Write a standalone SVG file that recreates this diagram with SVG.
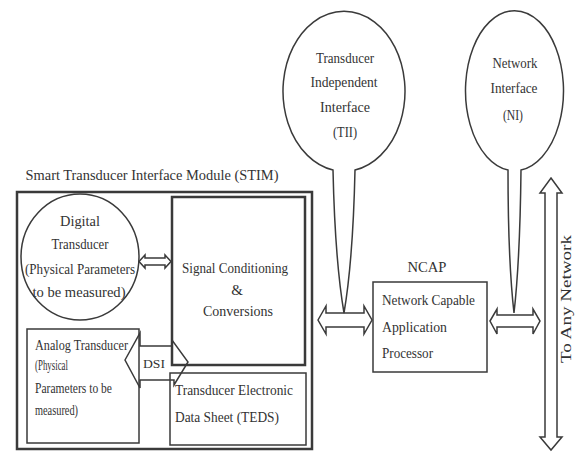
<svg xmlns="http://www.w3.org/2000/svg" width="578" height="454" viewBox="0 0 578 454">
<style>
.ln{fill:none;stroke:#3a3a3a;stroke-width:1.5;stroke-linejoin:miter}
.thk{fill:none;stroke:#3a3a3a;stroke-width:2.5}
.t{font-family:"Liberation Serif","Times New Roman",serif;font-size:15px;fill:#333}
.s{font-family:"Liberation Serif","Times New Roman",serif;font-size:13px;fill:#333}
.m{text-anchor:middle}
</style>
<rect width="578" height="454" fill="#fff"/>
<g id="stim">
<text class="t m" x="152" y="180" textLength="253" lengthAdjust="spacingAndGlyphs">Smart Transducer Interface Module (STIM)</text>
<rect class="thk" x="17" y="192" width="295" height="257"/>
</g>
<g id="digital">
<ellipse class="ln" cx="80" cy="257" rx="59" ry="63"/>
<text class="t m" x="80" y="226" textLength="40" lengthAdjust="spacingAndGlyphs">Digital</text>
<text class="t m" x="80" y="249" textLength="57" lengthAdjust="spacingAndGlyphs">Transducer</text>
<text class="t m" x="80" y="274" textLength="110" lengthAdjust="spacingAndGlyphs">(Physical Parameters</text>
<text class="t m" x="79" y="297" textLength="93" lengthAdjust="spacingAndGlyphs">to be measured)</text>
</g>
<g id="signal">
<rect class="thk" x="172" y="197" width="133" height="168"/>
<text class="t m" x="235" y="273" textLength="106" lengthAdjust="spacingAndGlyphs">Signal Conditioning</text>
<text class="t m" x="237" y="295">&amp;</text>
<text class="t m" x="238" y="316" textLength="70" lengthAdjust="spacingAndGlyphs">Conversions</text>
</g>
<g id="teds">
<rect class="ln" x="170" y="373" width="136" height="72"/>
<text class="t" x="175" y="395" textLength="118" lengthAdjust="spacingAndGlyphs">Transducer Electronic</text>
<text class="t" x="175" y="422" textLength="104" lengthAdjust="spacingAndGlyphs">Data Sheet (TEDS)</text>
</g>
<g id="analog">
<rect class="ln" x="27" y="329" width="112" height="114"/>
<text class="t" x="35" y="350" textLength="93" lengthAdjust="spacingAndGlyphs">Analog Transducer</text>
<text class="t" x="35" y="370" textLength="33" lengthAdjust="spacingAndGlyphs">(Physical</text>
<text class="t" x="35" y="393" textLength="77" lengthAdjust="spacingAndGlyphs">Parameters to be</text>
<text class="t" x="35" y="415" textLength="43" lengthAdjust="spacingAndGlyphs">measured)</text>
</g>
<g id="tii">
<path class="ln" d="M333,170 A61,80 0 1 1 355,170 Q353,260 344,313 Q335,260 333,170 Z"/>
<text class="t m" x="345" y="63" textLength="58" lengthAdjust="spacingAndGlyphs">Transducer</text>
<text class="t m" x="344" y="87" textLength="67" lengthAdjust="spacingAndGlyphs">Independent</text>
<text class="t m" x="345" y="112" textLength="50" lengthAdjust="spacingAndGlyphs">Interface</text>
<text class="t m" x="345" y="137" textLength="24" lengthAdjust="spacingAndGlyphs">(TII)</text>
</g>
<g id="ni">
<path class="ln" d="M508,170 A49,80 0 1 1 521,170 Q520,260 514,313 Q508,260 508,170 Z"/>
<text class="t m" x="515" y="68" textLength="45" lengthAdjust="spacingAndGlyphs">Network</text>
<text class="t m" x="514" y="93" textLength="47" lengthAdjust="spacingAndGlyphs">Interface</text>
<text class="t m" x="513" y="120" textLength="20" lengthAdjust="spacingAndGlyphs">(NI)</text>
</g>
<g id="ncap">
<text class="t m" x="427" y="272" textLength="39" lengthAdjust="spacingAndGlyphs">NCAP</text>
<rect class="ln" x="373" y="282" width="114" height="90"/>
<text class="t" x="382" y="305" textLength="93" lengthAdjust="spacingAndGlyphs">Network Capable</text>
<text class="t" x="382" y="332" textLength="65" lengthAdjust="spacingAndGlyphs">Application</text>
<text class="t" x="382" y="358" textLength="51" lengthAdjust="spacingAndGlyphs">Processor</text>
</g>
<g id="connectors">
<polygon class="ln" points="139,261.5 145,255 145,258 165,258 165,255 171,261.5 165,268 165,265 145,265 145,268" fill="#fff"/>
<polygon class="ln" points="125,360 140,333 140,346 172,346 172,340 188,362 174,385 174,380 140,380 140,388"/>
<text class="s" x="143" y="368" textLength="22" lengthAdjust="spacingAndGlyphs">DSI</text>
<polygon class="ln" points="318,320 326,306 326,313 364,313 364,306 372,320 364,334 364,327 326,327 326,334"/>
<polygon class="ln" points="490,321 497,309 497,315 533,315 533,309 540,321 533,334 533,327 497,327 497,334"/>
<polygon class="ln" points="551,178 562,193 557,193 557,437 562,437 551,450 540,437 545,437 545,193 540,193"/>
<text class="t m" transform="translate(571,299) rotate(-90)" textLength="128" lengthAdjust="spacingAndGlyphs">To Any Network</text>
</g>
</svg>
